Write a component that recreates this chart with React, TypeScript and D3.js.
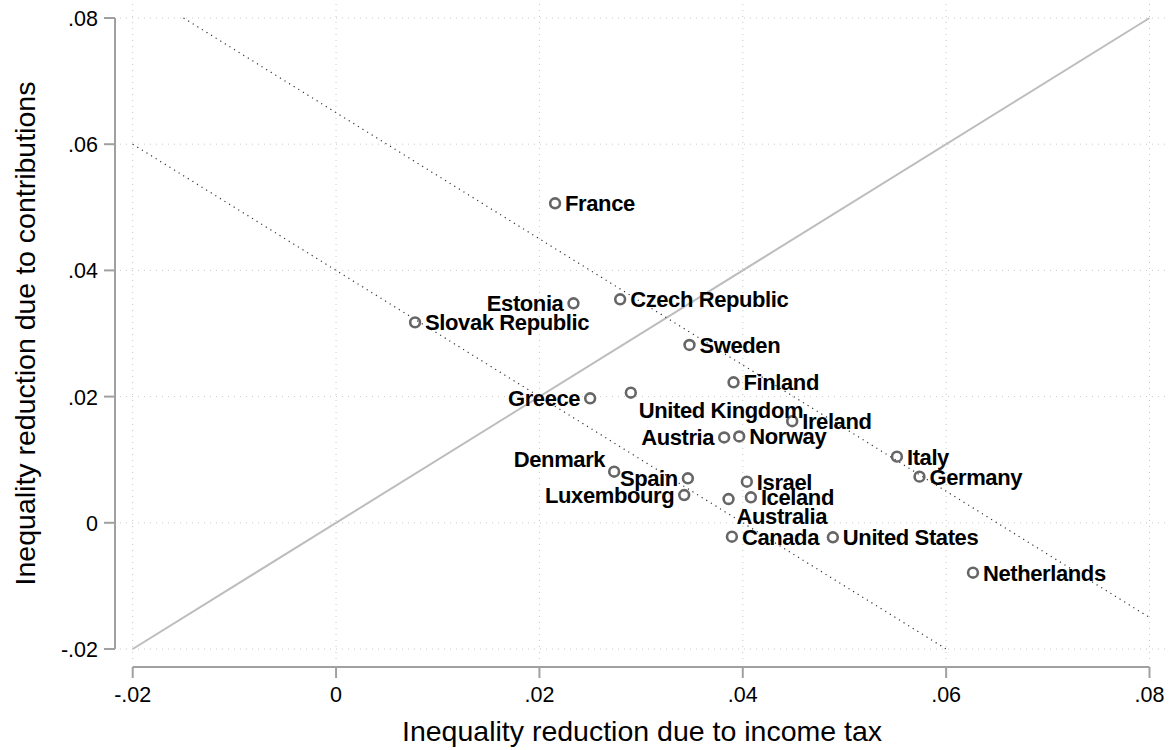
import React from "react";
import * as d3 from "d3";

const countries = [
  "France", "Estonia", "Czech Republic", "Slovak Republic", "Sweden", "Finland",
  "Greece", "United Kingdom", "Ireland", "Austria", "Norway", "Italy", "Germany",
  "Denmark", "Spain", "Luxembourg", "Israel", "Iceland", "Australia", "Canada",
  "United States", "Netherlands",
];
const incomeTax = [
  0.02154, 0.02335, 0.02794, 0.00777, 0.03476, 0.03909,
  0.02499, 0.02899, 0.04486, 0.03817, 0.03965, 0.05516, 0.05738,
  0.02735, 0.0346, 0.03424, 0.0404, 0.0408, 0.0386, 0.03893,
  0.04886, 0.06264,
];
const contributions = [
  0.05063, 0.03479, 0.03542, 0.03177, 0.02818, 0.02227,
  0.01973, 0.02062, 0.0161, 0.01352, 0.01368, 0.01048, 0.00731,
  0.0081, 0.00705, 0.0044, 0.00651, 0.00404, 0.00377, -0.0022,
  -0.0023, -0.00791,
];
// Stata-style clock positions for marker labels
const labelClock = [
  3, 9, 3, 3, 3, 3,
  9, 5, 3, 9, 3, 3, 3,
  11, 9, 9, 3, 3, 5, 3,
  3, 3,
];
const xTicks = [-0.02, 0, 0.02, 0.04, 0.06, 0.08];
const yTicks = [-0.02, 0, 0.02, 0.04, 0.06, 0.08];
const xTickLabels = ["-.02", "0", ".02", ".04", ".06", ".08"];
const yTickLabels = ["-.02", "0", ".02", ".04", ".06", ".08"];
// reference lines x + y = c
const isoLines = [
  { c: 0.065, x0: -0.015, x1: 0.08 },
  { c: 0.04, x0: -0.02, x1: 0.06 },
];

const W = 1172, H = 750;

export default function App() {
  const x = d3.scaleLinear().domain([-0.02, 0.08]).range([132.7, 1149.5]);
  const y = d3.scaleLinear().domain([-0.02, 0.08]).range([649, 18]);
  const font = "'Liberation Sans', Arial, Helvetica, sans-serif";

  const labelProps = (cx: number, cy: number, clock: number) => {
    switch (clock) {
      case 9:
        return { x: cx - 10, y: cy + 8, anchor: "end" };
      case 5:
        return { x: cx + 8, y: cy + 25, anchor: "start" };
      case 11:
        return { x: cx - 9, y: cy - 5, anchor: "end" };
      default:
        return { x: cx + 10, y: cy + 8, anchor: "start" };
    }
  };

  return (
    <div style={{ position: "absolute", left: 0, top: 0 }}>
      <svg width={W} height={H} style={{ display: "block", background: "#fff" }}>
        {/* grid */}
        <g stroke="#c8c8c8" strokeWidth={1} strokeDasharray="1 5">
          {yTicks.map((t, i) => (
            <line key={"gy" + i} x1={120} x2={1167} y1={y(t)} y2={y(t)} />
          ))}
          {xTicks.map((t, i) => (
            <line key={"gx" + i} x1={x(t)} x2={x(t)} y1={4} y2={660} />
          ))}
        </g>
        {/* 45-degree line */}
        <line x1={x(-0.02)} y1={y(-0.02)} x2={x(0.08)} y2={y(0.08)} stroke="#bdbdbd" strokeWidth={2} />
        {/* iso lines */}
        <g stroke="#333" strokeWidth={1.2} strokeDasharray="1.2 4.2">
          {isoLines.map((l, i) => (
            <line key={"iso" + i} x1={x(l.x0)} y1={y(l.c - l.x0)} x2={x(l.x1)} y2={y(l.c - l.x1)} />
          ))}
        </g>
        {/* axes */}
        <g stroke="#a0a0a0" strokeWidth={2} fill="none">
          <line x1={115} x2={115} y1={y(0.08)} y2={y(-0.02)} />
          {yTicks.map((t, i) => (
            <line key={"ty" + i} x1={104} x2={115} y1={y(t)} y2={y(t)} />
          ))}
          <line x1={x(-0.02)} x2={x(0.08)} y1={667} y2={667} />
          {xTicks.map((t, i) => (
            <line key={"tx" + i} x1={x(t)} x2={x(t)} y1={667} y2={678} />
          ))}
        </g>
        <g fontFamily={font} fontSize={21.5} fill="#000">
          {yTicks.map((t, i) => (
            <text key={"ly" + i} x={98} y={y(t) + 8} textAnchor="end">{yTickLabels[i]}</text>
          ))}
          {xTicks.map((t, i) => (
            <text key={"lx" + i} x={x(t)} y={702} textAnchor="middle">{xTickLabels[i]}</text>
          ))}
        </g>
        {/* axis titles */}
        <text x={642} y={741} textAnchor="middle" fontFamily={font} fontSize={28.5} fill="#000">
          Inequality reduction due to income tax
        </text>
        <text
          transform={`translate(35, ${y(0.03)}) rotate(-90)`}
          textAnchor="middle"
          fontFamily={font}
          fontSize={28.5}
          fill="#000"
        >
          Inequality reduction due to contributions
        </text>
        {/* points */}
        <g fill="none" stroke="#666" strokeWidth={2.6}>
          {countries.map((c, i) => (
            <circle key={"p" + c} cx={x(incomeTax[i])} cy={y(contributions[i])} r={4.9} />
          ))}
        </g>
        <g fontFamily={font} fontSize={22} fontWeight="bold" fill="#000" letterSpacing={-0.4}>
          {countries.map((c, i) => {
            const p = labelProps(x(incomeTax[i]), y(contributions[i]), labelClock[i]);
            return (
              <text key={"t" + c} x={p.x} y={p.y} textAnchor={p.anchor as any}>{c}</text>
            );
          })}
        </g>
      </svg>
    </div>
  );
}
